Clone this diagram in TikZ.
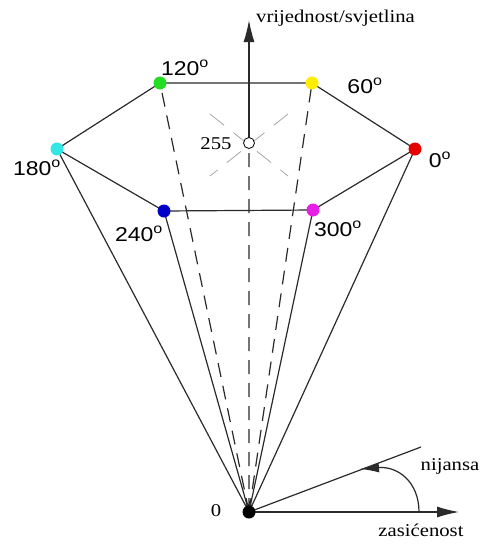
\documentclass[tikz,border=0pt]{standalone}
\usepackage{fontspec}
\setmainfont{Liberation Serif}[FakeStretch=1.15]
\newfontfamily\kutfont{Liberation Sans}[FakeStretch=1.15]
\usepackage{tikz}
\usetikzlibrary{arrows.meta}
\definecolor{crta}{HTML}{2A2A2A}
\definecolor{hsvcrvena}{HTML}{E60000}
\definecolor{hsvzuta}{HTML}{FFEE00}
\definecolor{hsvzelena}{HTML}{22DD22}
\definecolor{hsvcijan}{HTML}{33E6E6}
\definecolor{hsvplava}{HTML}{0000C8}
\definecolor{hsvmagenta}{HTML}{E61EE6}

\begin{document}
\begin{tikzpicture}[x=1pt, y=-1pt,
    linija/.style={crta, line width=1.2pt},
    crtkano/.style={linija, dash pattern=on 14pt off 9pt},
    tocka/.style={circle, inner sep=0pt, minimum size=13pt},
    opis/.style={font=\fontsize{18}{20}\selectfont, inner sep=0pt},
    kut/.style={font=\kutfont\fontsize{20}{22}\selectfont, inner sep=0pt},
    strelica/.style={-{Latex[length=22pt, width=11pt]}}]
    \useasboundingbox (0,0) rectangle (482,544);

    % Vrhovi šesterokuta
    \coordinate (h0) at (415,149);
    \coordinate (h60) at (312,83);
    \coordinate (h120) at (160,83);
    \coordinate (h180) at (57,149);
    \coordinate (h240) at (164,211);
    \coordinate (h300) at (313,210);
    % Ishodište, bijela točka i krajevi osi
    \coordinate (O) at (249,512);
    \coordinate (V) at (249,143);
    \coordinate (vy) at (249,20);
    \coordinate (sx) at (459,512);
    \coordinate (hs) at (421,447);
    \coordinate (n1) at (419,512);
    \coordinate (n2) at (360,469);

    % Šesterokut
    \draw[linija] (h0) -- (h60) -- (h120) -- (h180) -- (h240) -- (h300) -- cycle;

    % Stožac
    \draw[linija] (O) -- (h0) (O) -- (h180) (O) -- (h240) (O) -- (h300);
    \draw[crtkano] (O) -- (h60) (O) -- (h120) (O) -- (V);

    % Crtkani križ oko bijele točke
    \draw[gray!70, line width=0.8pt, dash pattern=on 18pt off 12pt]
        (210,114) -- (288,176) (288,114) -- (210,176);

    % Os vrijednosti/svjetline
    \draw[linija, strelica] (V) -- (vy);
    \node[opis, anchor=west] at (256,18) {vrijednost/svjetlina};

    % Os zasićenosti i nijansa
    \draw[linija, strelica] (O) -- (sx);
    \draw[linija] (O) -- (hs);
    \draw[linija, -{Latex[length=19pt, width=10pt]}] (n1) .. controls (419,482) and (398,466) .. (n2);
    \node[opis] at (450,466) {nijansa};
    \node[opis] at (421,530) {zasićenost};

    % Točke boja
    \node[tocka, fill=hsvcrvena] (t0) at (h0) {};
    \node[tocka, fill=hsvzuta] (t60) at (h60) {};
    \node[tocka, fill=hsvzelena] (t120) at (h120) {};
    \node[tocka, fill=hsvcijan] (t180) at (h180) {};
    \node[tocka, fill=hsvplava] (t240) at (h240) {};
    \node[tocka, fill=hsvmagenta] (t300) at (h300) {};
    \node[tocka, fill=white, draw=black, line width=0.8pt, minimum size=11pt] (t255) at (V) {};
    \node[tocka, fill=black, minimum size=13pt] (t00) at (O) {};

    % Oznake kutova
    \node[kut] at (185,68) {120\textsuperscript{o}};
    \node[kut] at (365,86) {60\textsuperscript{o}};
    \node[kut] at (440,160) {0\textsuperscript{o}};
    \node[kut] at (37,168) {180\textsuperscript{o}};
    \node[kut] at (139,234) {240\textsuperscript{o}};
    \node[kut] at (338,229) {300\textsuperscript{o}};
    \node[opis] at (216,144) {255};
    \node[opis] at (216,511) {0};

\end{tikzpicture}
\end{document}
